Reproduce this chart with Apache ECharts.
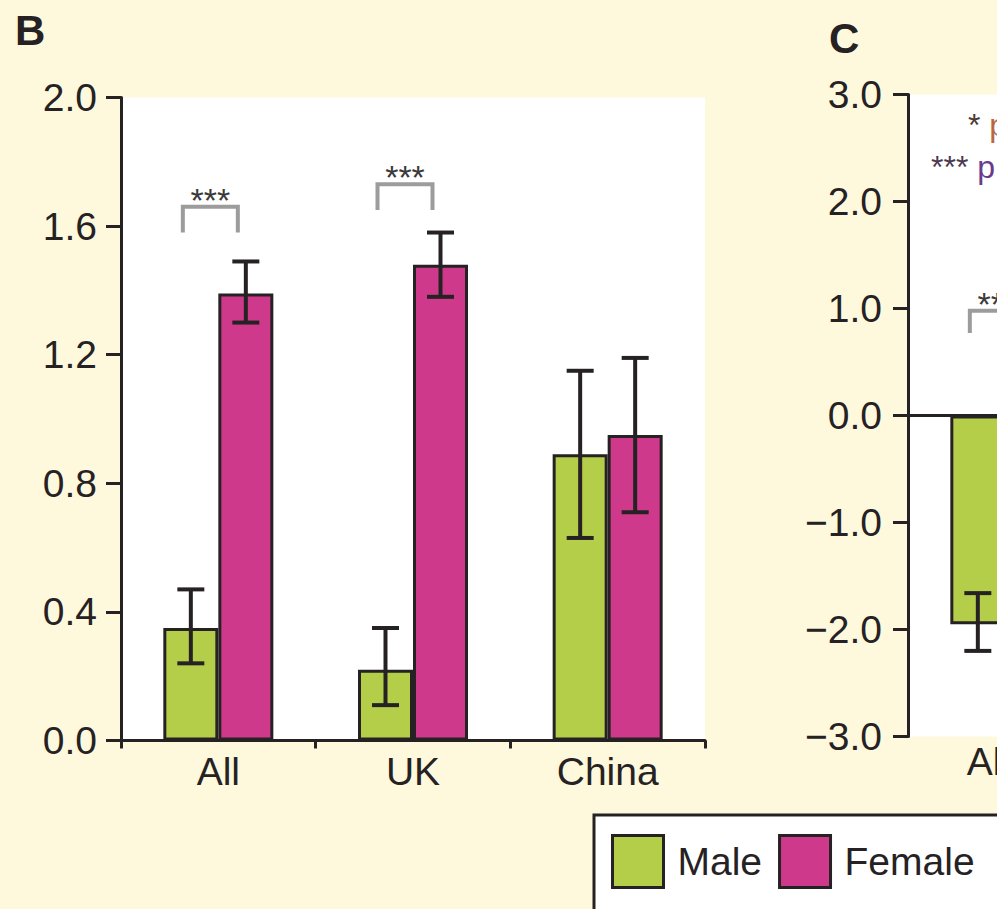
<!DOCTYPE html>
<html>
<head>
<meta charset="utf-8">
<script src="https://cdn.jsdelivr.net/npm/echarts@6/dist/echarts.min.js"></script>
<style>
  html, body { margin: 0; padding: 0; background: #FEF9DD; overflow: hidden; }
  #chart { width: 1500px; height: 1000px; }
</style>
</head>
<body>
<div id="chart"></div>
<script>
// Panel B: group means with error ranges
const categories = ['All', 'UK', 'China'];
const maleMean = [0.35, 0.22, 0.89];
const maleLow = [0.24, 0.11, 0.63];
const maleHigh = [0.47, 0.35, 1.15];
const femaleMean = [1.39, 1.48, 0.95];
const femaleLow = [1.30, 1.38, 0.71];
const femaleHigh = [1.49, 1.58, 1.19];

// Panel B significance brackets: category, bracket top, leg end, marker
const sigCategory = [0, 1];
const sigTop = [1.66, 1.73];
const sigBase = [1.58, 1.65];
const sigMark = ['***', '***'];

// Panel C
const categoriesC = ['All', 'UK', 'China'];
const maleMeanC = [-1.95, null, null];
const maleLowC = [-2.20, null, null];
const maleHighC = [-1.66, null, null];
const sigCategoryC = [0];
const sigTopC = [0.98];
const sigBaseC = [0.77];
const sigMarkC = ['***'];

// Axis ranges
const axisB = { min: 0, max: 2, step: 0.4 };
const axisC = { min: -3, max: 3, step: 1 };

const INK = '#262223';
const GREEN = '#B5CE4A';
const MAGENTA = '#CE398C';
const FONT = "'Liberation Sans', Arial, Helvetica, sans-serif";
const BAR_W = 55;

function errorRenderer(side) {
  return function (params, api) {
    const i = api.value(0);
    const pLo = api.coord([i, api.value(1)]);
    const pHi = api.coord([i, api.value(2)]);
    const x = pLo[0] + side * BAR_W / 2;
    const st = { stroke: INK, lineWidth: 4 };
    return {
      type: 'group',
      children: [
        { type: 'line', shape: { x1: x, y1: pHi[1], x2: x, y2: pLo[1] }, style: st },
        { type: 'line', shape: { x1: x - 13.5, y1: pHi[1], x2: x + 13.5, y2: pHi[1] }, style: st },
        { type: 'line', shape: { x1: x - 13.5, y1: pLo[1], x2: x + 13.5, y2: pLo[1] }, style: st }
      ]
    };
  };
}

function bracketRenderer(marks) {
  return function (params, api) {
    const i = api.value(0);
    const pTop = api.coord([i, api.value(1)]);
    const pBase = api.coord([i, api.value(2)]);
    const xL = pTop[0] - BAR_W / 2 - 8;
    const xR = pTop[0] + BAR_W / 2 - 8;
    return {
      type: 'group',
      children: [
        {
          type: 'polyline',
          shape: { points: [[xL, pBase[1]], [xL, pTop[1]], [xR, pTop[1]], [xR, pBase[1]]] },
          style: { stroke: '#9c9c9c', lineWidth: 4, fill: null }
        },
        {
          type: 'text',
          x: (xL + xR) / 2,
          y: pTop[1] - 7,
          style: {
            text: marks[params.dataIndex],
            font: '34px ' + FONT,
            fill: '#3a3a3a',
            align: 'center',
            verticalAlign: 'middle'
          }
        }
      ]
    };
  };
}

function rangeData(low, high) {
  const out = [];
  low.forEach((v, i) => { if (v != null) out.push([i, v, high[i]]); });
  return out;
}

function sigData(cat, top, base) {
  return cat.map((c, k) => [c, top[k], base[k]]);
}

const fmt = v => (v < 0 ? '\u2212' + Math.abs(v).toFixed(1) : v.toFixed(1));

const chart = echarts.init(document.getElementById('chart'), null, { renderer: 'svg' });

chart.setOption({
  backgroundColor: '#FEF9DD',
  animation: false,
  textStyle: { fontFamily: FONT, color: INK },
  title: [
    { text: 'B', left: 10, top: 4, textStyle: { fontSize: 42, fontWeight: 'bold', color: INK, fontFamily: FONT } },
    { text: 'C', left: 824, top: 12, textStyle: { fontSize: 42, fontWeight: 'bold', color: INK, fontFamily: FONT } }
  ],
  legend: {
    data: ['Male', 'Female'],
    left: 594,
    top: 815,
    orient: 'horizontal',
    padding: [19, 60, 40, 17],
    backgroundColor: '#ffffff',
    borderColor: INK,
    borderWidth: 3,
    borderRadius: 0,
    icon: 'rect',
    itemWidth: 51,
    itemHeight: 52,
    itemGap: 16,
    itemStyle: { borderColor: INK, borderWidth: 3 },
    textStyle: { fontSize: 39, color: INK, fontFamily: FONT, padding: [0, 0, 0, 9] }
  },
  grid: [
    { left: 121, top: 97.5, width: 584, height: 643, show: true, backgroundColor: '#ffffff', borderWidth: 0 },
    { left: 908, top: 94.5, width: 584, height: 642, show: true, backgroundColor: '#ffffff', borderWidth: 0 }
  ],
  xAxis: [
    {
      gridIndex: 0, type: 'category', data: categories,
      axisLine: { lineStyle: { color: INK, width: 3 } },
      axisTick: { show: true, length: 8, lineStyle: { color: INK, width: 3 } },
      axisLabel: { fontSize: 39, color: INK, margin: 11, fontFamily: FONT }
    },
    {
      gridIndex: 1, type: 'category', data: categoriesC,
      axisLine: { show: false },
      axisTick: { show: false },
      axisLabel: { fontSize: 39, color: INK, margin: 5, fontFamily: FONT, padding: [0, 34, 0, 0] }
    }
  ],
  yAxis: [
    {
      gridIndex: 0, type: 'value', min: axisB.min, max: axisB.max, interval: axisB.step,
      splitLine: { show: false },
      axisLine: { show: true, lineStyle: { color: INK, width: 3 } },
      axisTick: { show: true, length: 15, lineStyle: { color: INK, width: 3 } },
      axisLabel: { fontSize: 39, color: INK, margin: 24, formatter: fmt, fontFamily: FONT, padding: [0, 0, 10, 0] }
    },
    {
      gridIndex: 1, type: 'value', min: axisC.min, max: axisC.max, interval: axisC.step,
      splitLine: { show: false },
      axisLine: { show: true, lineStyle: { color: INK, width: 3 } },
      axisTick: { show: true, length: 15, lineStyle: { color: INK, width: 3 } },
      axisLabel: { fontSize: 39, color: INK, margin: 26, formatter: fmt, fontFamily: FONT, padding: [0, 0, 7, 0] }
    }
  ],
  graphic: [
    {
      type: 'text', x: 968, y: 125,
      style: {
        text: '{s|*} {o|p < 0.05}',
        font: '32px ' + FONT,
        verticalAlign: 'middle',
        rich: {
          s: { fill: '#4a3a36', fontSize: 32, fontFamily: FONT },
          o: { fill: '#B8683F', fontSize: 32, fontFamily: FONT }
        }
      }
    },
    {
      type: 'text', x: 931, y: 167,
      style: {
        text: '{s|***} {o|p < 0.001}',
        font: '32px ' + FONT,
        verticalAlign: 'middle',
        rich: {
          s: { fill: '#4a3a50', fontSize: 32, fontFamily: FONT },
          o: { fill: '#6B3A8E', fontSize: 32, fontFamily: FONT }
        }
      }
    }
  ],
  series: [
    {
      name: 'Male', type: 'bar', xAxisIndex: 0, yAxisIndex: 0,
      data: maleMean, barWidth: BAR_W, barGap: '0%',
      itemStyle: { color: GREEN, borderColor: INK, borderWidth: 3 }
    },
    {
      name: 'Female', type: 'bar', xAxisIndex: 0, yAxisIndex: 0,
      data: femaleMean, barWidth: BAR_W, barGap: '0%',
      itemStyle: { color: MAGENTA, borderColor: INK, borderWidth: 3 }
    },
    {
      name: 'Male range', type: 'custom', xAxisIndex: 0, yAxisIndex: 0, z: 5,
      renderItem: errorRenderer(-1), encode: { x: 0, y: [1, 2] },
      data: rangeData(maleLow, maleHigh)
    },
    {
      name: 'Female range', type: 'custom', xAxisIndex: 0, yAxisIndex: 0, z: 5,
      renderItem: errorRenderer(1), encode: { x: 0, y: [1, 2] },
      data: rangeData(femaleLow, femaleHigh)
    },
    {
      name: 'Significance', type: 'custom', xAxisIndex: 0, yAxisIndex: 0, z: 5,
      renderItem: bracketRenderer(sigMark), encode: { x: 0, y: [1, 2] },
      data: sigData(sigCategory, sigTop, sigBase)
    },
    {
      name: 'Male', type: 'bar', xAxisIndex: 1, yAxisIndex: 1,
      data: maleMeanC, barWidth: BAR_W, barGap: '0%',
      itemStyle: { color: GREEN, borderColor: INK, borderWidth: 3 },
      markLine: {
        silent: true, symbol: 'none', label: { show: false },
        lineStyle: { color: INK, width: 3, type: 'solid' },
        data: [{ yAxis: 0 }]
      }
    },
    {
      name: 'Female', type: 'bar', xAxisIndex: 1, yAxisIndex: 1,
      data: [null, null, null], barWidth: BAR_W, barGap: '0%',
      itemStyle: { color: MAGENTA, borderColor: INK, borderWidth: 3 }
    },
    {
      name: 'Male range C', type: 'custom', xAxisIndex: 1, yAxisIndex: 1, z: 5,
      renderItem: errorRenderer(-1), encode: { x: 0, y: [1, 2] },
      data: rangeData(maleLowC, maleHighC)
    },
    {
      name: 'Significance C', type: 'custom', xAxisIndex: 1, yAxisIndex: 1, z: 5,
      renderItem: bracketRenderer(sigMarkC), encode: { x: 0, y: [1, 2] },
      data: sigData(sigCategoryC, sigTopC, sigBaseC)
    }
  ]
});
</script>
</body>
</html>
